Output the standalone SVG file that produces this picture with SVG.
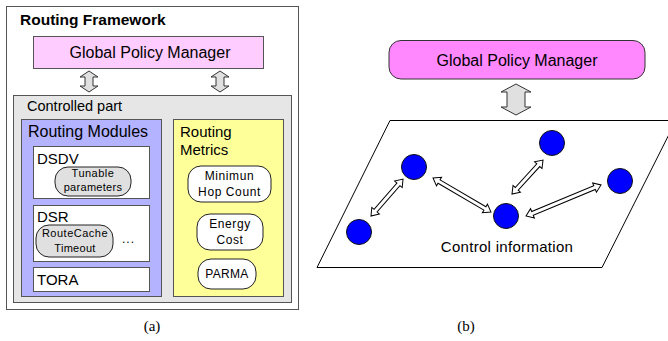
<svg xmlns="http://www.w3.org/2000/svg" width="668" height="341" viewBox="0 0 668 341">
<style>
text{font-family:"Liberation Sans",Arial,sans-serif;fill:#000}
.box{stroke:#555;stroke-width:1}
.rr{stroke:#222;stroke-width:1}
.blk{fill:#e0e0e0;stroke:#333;stroke-width:1}
.node{fill:#0000ff;stroke:#111;stroke-width:1}
.harrow{fill:#fff;stroke:#000;stroke-width:1}
.cap{font-family:"Liberation Serif","Times New Roman",serif;font-size:15px}
.m{text-anchor:middle}
</style>
<g id="panel-a">
<g id="routing-framework">
<rect x="6.5" y="6.5" width="292" height="303" fill="#fff" class="box"/>
<text x="20" y="25" font-size="15.5" font-weight="bold">Routing Framework</text>
</g>
<g id="gpm-a">
<rect x="33.5" y="36.5" width="230" height="32" fill="#ffccff" class="box"/>
<text x="150" y="58" font-size="16" class="m">Global Policy Manager</text>
</g>
<g id="controlled-part">
<rect x="13.5" y="95.5" width="278" height="207" fill="#e6e6e6" class="box"/>
<text x="27" y="111" font-size="14.5">Controlled part</text>
</g>
<g id="routing-modules">
<rect x="21.5" y="119.5" width="140" height="177" fill="#b3b3ff" class="box"/>
<text x="28" y="137" font-size="16">Routing Modules</text>
</g>
<g id="dsdv">
<rect x="33.5" y="146.5" width="116" height="52" fill="#fff" class="box"/>
<text x="37" y="164" font-size="15">DSDV</text>
</g>
<g id="tunable">
<rect x="55" y="167" width="76" height="29" rx="13" fill="#e0e0e0" class="rr"/>
<text x="93" y="177" font-size="11" letter-spacing="0.5" class="m">Tunable</text>
<text x="93" y="191" font-size="11" letter-spacing="0.3" class="m">parameters</text>
</g>
<g id="dsr">
<rect x="33.5" y="205.5" width="116" height="56" fill="#fff" class="box"/>
<text x="37" y="222" font-size="15">DSR</text>
<text x="122" y="243" font-size="12" letter-spacing="1">...</text>
</g>
<g id="routecache">
<rect x="36" y="225" width="77" height="32" rx="13" fill="#e0e0e0" class="rr"/>
<text x="75" y="237" font-size="11" letter-spacing="0.5" class="m">RouteCache</text>
<text x="75" y="252" font-size="11" letter-spacing="0.3" class="m">Timeout</text>
</g>
<g id="tora">
<rect x="33.5" y="267.5" width="116" height="24" fill="#fff" class="box"/>
<text x="37" y="285" font-size="15">TORA</text>
</g>
<g id="routing-metrics">
<rect x="173.5" y="119.5" width="110" height="177" fill="#ffff99" class="box"/>
<text x="180" y="137" font-size="15">Routing</text>
<text x="180" y="155" font-size="15">Metrics</text>
</g>
<g id="min-hop">
<rect x="188" y="166" width="83" height="36" rx="13" fill="#fff" class="rr"/>
<text x="229.5" y="180" font-size="12" letter-spacing="0.6" class="m">Minimun</text>
<text x="229.5" y="196" font-size="12" letter-spacing="0.6" class="m">Hop Count</text>
</g>
<g id="energy">
<rect x="197" y="214" width="66" height="36" rx="13" fill="#fff" class="rr"/>
<text x="230" y="228" font-size="12" letter-spacing="0.6" class="m">Energy</text>
<text x="230" y="244" font-size="12" letter-spacing="0.6" class="m">Cost</text>
</g>
<g id="parma">
<rect x="198" y="259" width="58" height="30" rx="13" fill="#fff" class="rr"/>
<text x="227" y="278" font-size="12" letter-spacing="0.3" class="m">PARMA</text>
</g>
<text x="152" y="331" class="cap m">(a)</text>
</g>
<g id="panel-b">
<g id="gpm-b">
<rect x="389" y="40.5" width="256" height="38.5" rx="12" fill="#ff88ff" stroke="#333"/>
<text x="517" y="65.5" font-size="16" class="m">Global Policy Manager</text>
</g>
<g id="plane">
<polygon points="390,120.5 676,120.5 602,267.5 317,267.5" fill="#fff" stroke="#000" stroke-width="1"/>
<text x="507" y="252" font-size="15" letter-spacing="0.3" class="m">Control information</text>
</g>
<g id="n1"><circle cx="359" cy="232" r="12.5" class="node"/></g>
<g id="n2"><circle cx="414" cy="167" r="12.5" class="node"/></g>
<g id="n3"><circle cx="552" cy="143" r="12.5" class="node"/></g>
<g id="n4"><circle cx="506" cy="216" r="12.5" class="node"/></g>
<g id="n5"><circle cx="620" cy="181" r="12.5" class="node"/></g>
<text x="466" y="331" class="cap m">(b)</text>
</g>
<g id="connectors">
<path class="blk" d="M89,71 L98,77 L93,77 L93,86 L98,86 L89,92 L80,86 L85,86 L85,77 L80,77 Z"/>
<path class="blk" d="M220,71 L229,77 L224,77 L224,86 L229,86 L220,92 L211,86 L216,86 L216,77 L211,77 Z"/>
<path class="blk" d="M516,84 L531,92 L525,92 L525,107 L531,107 L516,115 L501,107 L507,107 L507,92 L501,92 Z"/>
<path class="harrow" transform="translate(371,216) rotate(-49.1)" d="M0,0 L7,-5 L7,-2 L41.9,-2 L41.9,-5 L48.9,0 L41.9,5 L41.9,2 L7,2 L7,5 Z"/>
<path class="harrow" transform="translate(433,178) rotate(30.4)" d="M0,0 L7,-5 L7,-2 L60.2,-2 L60.2,-5 L67.2,0 L60.2,5 L60.2,2 L7,2 L7,5 Z"/>
<path class="harrow" transform="translate(512,194) rotate(-47.6)" d="M0,0 L7,-5 L7,-2 L39,-2 L39,-5 L46,0 L39,5 L39,2 L7,2 L7,5 Z"/>
<path class="harrow" transform="translate(526,216) rotate(-22.5)" d="M0,0 L7,-5 L7,-2 L74.2,-2 L74.2,-5 L81.2,0 L74.2,5 L74.2,2 L7,2 L7,5 Z"/>
</g>
</svg>
